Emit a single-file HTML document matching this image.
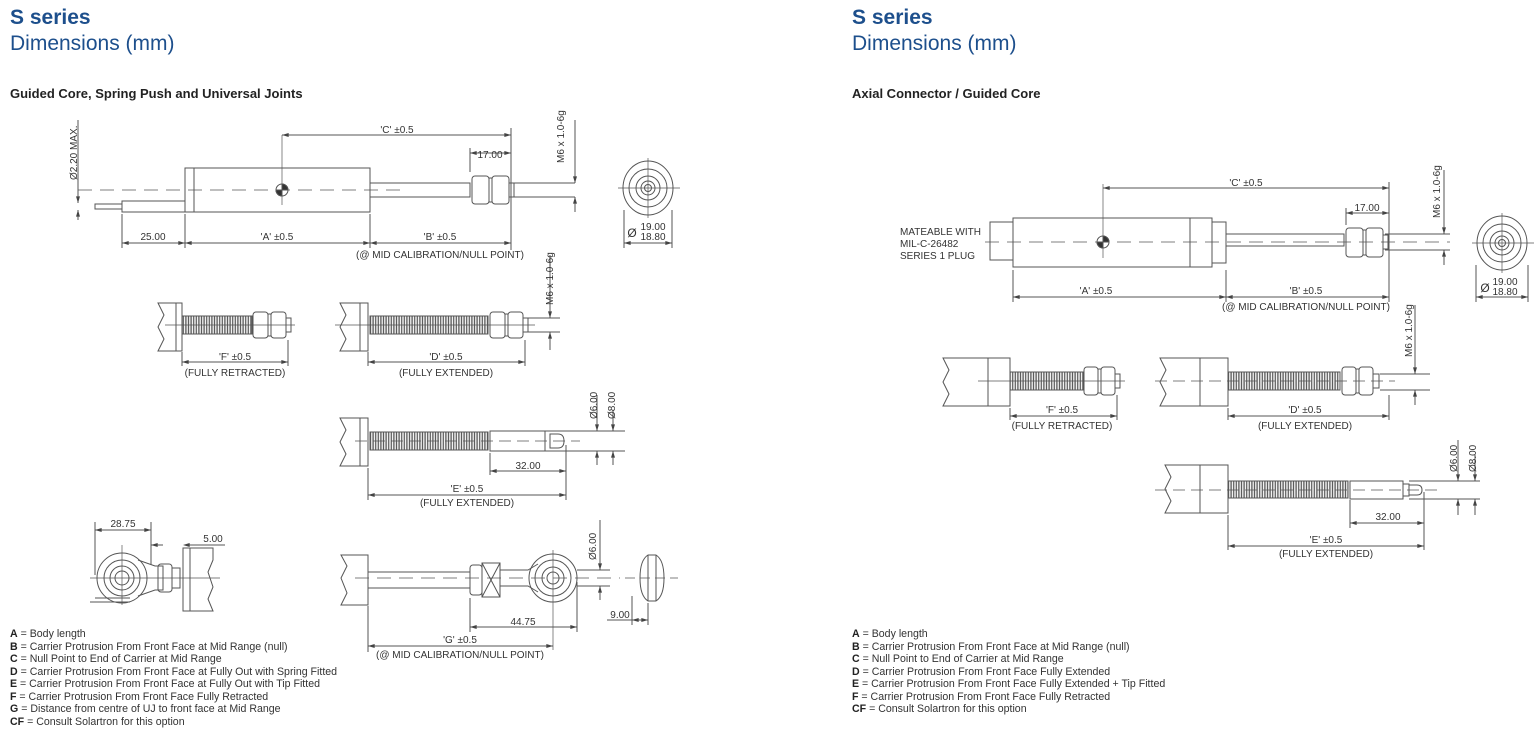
<!DOCTYPE html>
<html><head><meta charset="utf-8"><style>
body{margin:0;background:#fff;width:1538px;height:732px;overflow:hidden;font-family:"Liberation Sans",sans-serif}
svg text{font-family:"Liberation Sans",sans-serif;fill:#333}
</style></head><body>
<svg width="1538" height="732" viewBox="0 0 1538 732" xmlns="http://www.w3.org/2000/svg">
<defs>
<marker id="a" viewBox="0 0 10 6" refX="10" refY="3" markerWidth="8" markerHeight="4" orient="auto-start-reverse"><path d="M0,0L10,3L0,6z" fill="#444"/></marker>
<pattern id="sp" width="2.6" height="10" patternUnits="userSpaceOnUse"><rect width="2.6" height="10" fill="#fff"/><line x1="1.3" y1="0" x2="1.3" y2="10" stroke="#555" stroke-width="1.3"/></pattern>
</defs>
<g font-size="21" fill="#1d4f8c">
<text x="10" y="24" font-weight="bold" style="fill:#1d4f8c">S series</text>
<text x="10" y="50" style="fill:#1d4f8c">Dimensions (mm)</text>
<text x="852" y="24" font-weight="bold" style="fill:#1d4f8c">S series</text>
<text x="852" y="50" style="fill:#1d4f8c">Dimensions (mm)</text>
</g>
<text x="10" y="98" font-size="13" font-weight="bold" style="fill:#222">Guided Core, Spring Push and Universal Joints</text>
<text x="852" y="98" font-size="13" font-weight="bold" style="fill:#222">Axial Connector / Guided Core</text>

<g stroke="#555" stroke-width="1" fill="none">
<!-- LEFT main -->
<line x1="78" y1="190" x2="400" y2="190" stroke-dasharray="14,8" stroke-width=".7"/>
<rect x="95" y="204" width="27" height="5"/><rect x="122" y="201" width="63" height="11"/>
<rect x="185" y="168" width="185" height="44"/><line x1="194" y1="168" x2="194" y2="212"/>
<rect x="370" y="183" width="100" height="14"/><line x1="510" y1="183" x2="575" y2="183"/><line x1="510" y1="197" x2="575" y2="197"/>
<rect x="472" y="176" width="17" height="28" rx="3"/><rect x="489" y="178" width="3" height="24"/><rect x="492" y="176" width="17" height="28" rx="3"/><rect x="509" y="183" width="5" height="14"/>
<circle cx="282" cy="190" r="6"/><line x1="282" y1="135" x2="282" y2="205" stroke-width=".7"/>
<path d="M282,190L282,184A6,6 0 0 1 288,190Z M282,190L282,196A6,6 0 0 1 276,190Z" fill="#333"/>
<line x1="282" y1="135" x2="511" y2="135" marker-start="url(#a)" marker-end="url(#a)"/>
<line x1="511" y1="128" x2="511" y2="250"/><line x1="470" y1="148" x2="470" y2="172"/>
<line x1="470" y1="153" x2="511" y2="153" marker-start="url(#a)" marker-end="url(#a)"/>
<line x1="575" y1="120" x2="575" y2="183" marker-end="url(#a)"/><line x1="575" y1="212" x2="575" y2="197" marker-end="url(#a)"/>
<line x1="122" y1="214" x2="122" y2="248"/><line x1="185" y1="214" x2="185" y2="248"/><line x1="370" y1="214" x2="370" y2="248"/>
<line x1="122" y1="243" x2="185" y2="243" marker-start="url(#a)" marker-end="url(#a)"/>
<line x1="185" y1="243" x2="370" y2="243" marker-start="url(#a)" marker-end="url(#a)"/>
<line x1="370" y1="243" x2="511" y2="243" marker-start="url(#a)" marker-end="url(#a)"/>
<line x1="78" y1="120" x2="78" y2="203" marker-end="url(#a)"/><line x1="78" y1="220" x2="78" y2="210" marker-end="url(#a)"/>
<!-- end view -->
<ellipse cx="648" cy="188" rx="25" ry="27"/><circle cx="648" cy="188" r="19"/><circle cx="648" cy="188" r="12"/><circle cx="648" cy="188" r="7"/><circle cx="648" cy="188" r="3.5"/>
<line x1="618" y1="188" x2="680" y2="188" stroke-width=".7"/><line x1="648" y1="158" x2="648" y2="218" stroke-width=".7"/>
<line x1="624" y1="210" x2="624" y2="248"/><line x1="672" y1="210" x2="672" y2="248"/>
<line x1="624" y1="243" x2="672" y2="243" marker-start="url(#a)" marker-end="url(#a)"/>

<!-- F left -->
<path d="M158,303h24v48h-24l6,-12-6,-12 6,-12z"/><line x1="176" y1="303" x2="176" y2="351"/>
<rect x="182" y="316" width="70" height="18" fill="url(#sp)"/>
<rect x="253" y="312" width="15" height="26" rx="3"/><rect x="268" y="314" width="3" height="22"/><rect x="271" y="312" width="15" height="26" rx="3"/><rect x="286" y="318" width="5" height="14"/>
<line x1="165" y1="325" x2="295" y2="325" stroke-width=".7"/>
<line x1="288" y1="340" x2="288" y2="366"/><line x1="182" y1="352" x2="182" y2="366"/>
<line x1="182" y1="362" x2="288" y2="362" marker-start="url(#a)" marker-end="url(#a)"/>
<!-- D left -->
<path d="M340,303h28v48h-28l6,-12-6,-12 6,-12z"/><line x1="360" y1="303" x2="360" y2="351"/>
<rect x="370" y="316" width="118" height="18" fill="url(#sp)"/>
<rect x="490" y="312" width="15" height="26" rx="3"/><rect x="505" y="314" width="3" height="22"/><rect x="508" y="312" width="15" height="26" rx="3"/><rect x="523" y="318" width="5" height="14"/>
<line x1="335" y1="325" x2="535" y2="325" stroke-width=".7"/>
<line x1="525" y1="318" x2="560" y2="318"/><line x1="525" y1="332" x2="560" y2="332"/>
<line x1="550" y1="255" x2="550" y2="318" marker-end="url(#a)"/><line x1="550" y1="350" x2="550" y2="332" marker-end="url(#a)"/>
<line x1="368" y1="352" x2="368" y2="366"/><line x1="525" y1="340" x2="525" y2="366"/>
<line x1="368" y1="362" x2="525" y2="362" marker-start="url(#a)" marker-end="url(#a)"/>
<!-- E left -->
<path d="M340,418h28v48h-28l6,-12-6,-12 6,-12z"/><line x1="360" y1="418" x2="360" y2="466"/>
<rect x="370" y="432" width="118" height="18" fill="url(#sp)"/>
<rect x="490" y="431" width="55" height="20"/><path d="M550,434h8q6,0 6,7q0,7-6,7h-8z"/>
<line x1="355" y1="441" x2="580" y2="441" stroke-dasharray="12,6" stroke-width=".7"/>
<line x1="545" y1="431" x2="625" y2="431"/><line x1="545" y1="451" x2="625" y2="451"/>
<line x1="597" y1="395" x2="597" y2="431" marker-end="url(#a)"/><line x1="597" y1="465" x2="597" y2="451" marker-end="url(#a)"/>
<line x1="613" y1="410" x2="613" y2="431" marker-end="url(#a)"/><line x1="613" y1="465" x2="613" y2="451" marker-end="url(#a)"/>
<line x1="490" y1="453" x2="490" y2="475"/><line x1="566" y1="445" x2="566" y2="500"/><line x1="368" y1="468" x2="368" y2="500"/>
<line x1="490" y1="471" x2="566" y2="471" marker-start="url(#a)" marker-end="url(#a)"/>
<line x1="368" y1="495" x2="566" y2="495" marker-start="url(#a)" marker-end="url(#a)"/>
<!-- UJ small left -->
<circle cx="122" cy="578" r="25"/><circle cx="122" cy="578" r="18"/><circle cx="122" cy="578" r="12"/><circle cx="122" cy="578" r="7"/>
<path d="M138,560L155,566h8v24h-8L138,596"/><rect x="158" y="564" width="14" height="28" rx="3"/><rect x="172" y="568" width="8" height="20"/>
<path d="M213,548h-30v63h30l-5,-12 5,-12-5,-15 5,-12z"/><line x1="190" y1="548" x2="190" y2="611"/>
<line x1="90" y1="578" x2="220" y2="578" stroke-width=".7"/><line x1="122" y1="545" x2="122" y2="605" stroke-width=".7"/>
<path d="M90,602h40M95,598h35"/>
<line x1="95" y1="522" x2="95" y2="575"/><line x1="151" y1="522" x2="151" y2="565"/>
<line x1="95" y1="530" x2="151" y2="530" marker-start="url(#a)" marker-end="url(#a)"/>
<line x1="163" y1="545" x2="151" y2="545" marker-end="url(#a)"/><line x1="225" y1="545" x2="187" y2="545"/><line x1="195" y1="545" x2="183" y2="545" marker-end="url(#a)" stroke="none"/>
<!-- G -->
<path d="M341,555h27v50h-27l6,-12-6,-15 6,-12z"/>
<rect x="368" y="572" width="102" height="16"/><rect x="470" y="565" width="12" height="30" rx="3"/><rect x="482" y="563" width="18" height="34"/><path d="M482,563L500,597M500,563L482,597"/>
<path d="M500,570h28l10,-6M500,586h28l10,6"/>
<circle cx="553" cy="578" r="24"/><circle cx="553" cy="578" r="18"/><circle cx="553" cy="578" r="11"/><circle cx="553" cy="578" r="6"/>
<line x1="355" y1="578" x2="620" y2="578" stroke-dasharray="14,8" stroke-width=".7"/><line x1="553" y1="550" x2="553" y2="650" stroke-width=".7"/>
<line x1="577" y1="570" x2="610" y2="570"/><line x1="577" y1="586" x2="610" y2="586"/>
<line x1="600" y1="520" x2="600" y2="570" marker-end="url(#a)"/><line x1="600" y1="600" x2="600" y2="586" marker-end="url(#a)"/>
<path d="M648,555h8q8,5 8,23q0,18-8,23h-8q-8,-5-8,-23q0,-18 8,-23z"/><line x1="648" y1="555" x2="648" y2="601"/><line x1="656" y1="555" x2="656" y2="601"/>
<line x1="625" y1="578" x2="678" y2="578" stroke-dasharray="10,5" stroke-width=".7"/>
<line x1="632" y1="596" x2="632" y2="625"/><line x1="648" y1="603" x2="648" y2="625"/>
<line x1="607" y1="620" x2="632" y2="620"/><line x1="632" y1="620" x2="648" y2="620" marker-start="url(#a)" marker-end="url(#a)"/>
<line x1="470" y1="598" x2="470" y2="632"/><line x1="577" y1="582" x2="577" y2="632"/><line x1="368" y1="606" x2="368" y2="652"/>
<line x1="470" y1="627" x2="577" y2="627" marker-start="url(#a)" marker-end="url(#a)"/>
<line x1="368" y1="646" x2="553" y2="646" marker-start="url(#a)" marker-end="url(#a)"/>

<!-- RIGHT main -->
<line x1="985" y1="242" x2="1450" y2="242" stroke-dasharray="14,8" stroke-width=".7"/>
<rect x="990" y="222" width="23" height="38"/><rect x="1013" y="218" width="177" height="49"/><rect x="1190" y="218" width="22" height="49"/><rect x="1212" y="222" width="14" height="41"/>
<rect x="1226" y="234" width="118" height="12"/><line x1="1385" y1="234" x2="1450" y2="234"/><line x1="1385" y1="250" x2="1450" y2="250"/>
<rect x="1346" y="228" width="17" height="29" rx="3"/><rect x="1363" y="230" width="3" height="25"/><rect x="1366" y="228" width="17" height="29" rx="3"/><rect x="1383" y="235" width="5" height="14"/>
<circle cx="1103" cy="242" r="6"/><line x1="1103" y1="184" x2="1103" y2="258" stroke-width=".7"/>
<path d="M1103,242L1103,236A6,6 0 0 1 1109,242Z M1103,242L1103,248A6,6 0 0 1 1097,242Z" fill="#333"/>
<line x1="1103" y1="188" x2="1389" y2="188" marker-start="url(#a)" marker-end="url(#a)"/>
<line x1="1389" y1="182" x2="1389" y2="302"/><line x1="1346" y1="208" x2="1346" y2="225"/>
<line x1="1346" y1="213" x2="1389" y2="213" marker-start="url(#a)" marker-end="url(#a)"/>
<line x1="1444" y1="170" x2="1444" y2="234" marker-end="url(#a)"/><line x1="1444" y1="265" x2="1444" y2="250" marker-end="url(#a)"/>
<line x1="1013" y1="270" x2="1013" y2="302"/><line x1="1226" y1="270" x2="1226" y2="302"/>
<line x1="1013" y1="297" x2="1226" y2="297" marker-start="url(#a)" marker-end="url(#a)"/>
<line x1="1226" y1="297" x2="1389" y2="297" marker-start="url(#a)" marker-end="url(#a)"/>
<ellipse cx="1502" cy="243" rx="25" ry="27"/><circle cx="1502" cy="243" r="19"/><circle cx="1502" cy="243" r="12"/><circle cx="1502" cy="243" r="7"/><circle cx="1502" cy="243" r="3.5"/>
<line x1="1472" y1="243" x2="1534" y2="243" stroke-width=".7"/><line x1="1502" y1="213" x2="1502" y2="273" stroke-width=".7"/>
<line x1="1476" y1="265" x2="1476" y2="302"/><line x1="1528" y1="265" x2="1528" y2="302"/>
<line x1="1476" y1="297" x2="1528" y2="297" marker-start="url(#a)" marker-end="url(#a)"/>
<!-- F right -->
<path d="M943,358h45v48h-45l6,-12-6,-12 6,-12z"/><rect x="988" y="358" width="22" height="48"/>
<rect x="1010" y="372" width="73" height="18" fill="url(#sp)"/>
<rect x="1084" y="367" width="14" height="28" rx="3"/><rect x="1098" y="369" width="3" height="24"/><rect x="1101" y="367" width="14" height="28" rx="3"/><rect x="1115" y="374" width="5" height="14"/>
<line x1="978" y1="381" x2="1125" y2="381" stroke-width=".7"/>
<line x1="1010" y1="408" x2="1010" y2="420"/><line x1="1117" y1="395" x2="1117" y2="420"/>
<line x1="1010" y1="416" x2="1117" y2="416" marker-start="url(#a)" marker-end="url(#a)"/>
<!-- D right -->
<path d="M1160,358h40v48h-40l6,-12-6,-12 6,-12z"/><rect x="1200" y="358" width="28" height="48"/>
<rect x="1228" y="372" width="112" height="18" fill="url(#sp)"/>
<rect x="1342" y="367" width="14" height="28" rx="3"/><rect x="1356" y="369" width="3" height="24"/><rect x="1359" y="367" width="14" height="28" rx="3"/><rect x="1373" y="374" width="6" height="14"/>
<line x1="1155" y1="381" x2="1395" y2="381" stroke-dasharray="12,6" stroke-width=".7"/>
<line x1="1380" y1="374" x2="1430" y2="374"/><line x1="1380" y1="390" x2="1430" y2="390"/>
<line x1="1415" y1="305" x2="1415" y2="374" marker-end="url(#a)"/><line x1="1415" y1="405" x2="1415" y2="390" marker-end="url(#a)"/>
<line x1="1228" y1="408" x2="1228" y2="420"/><line x1="1389" y1="395" x2="1389" y2="420"/>
<line x1="1228" y1="416" x2="1389" y2="416" marker-start="url(#a)" marker-end="url(#a)"/>
<!-- E right -->
<path d="M1165,465h35v48h-35l6,-12-6,-12 6,-12z"/><rect x="1200" y="465" width="28" height="48"/>
<rect x="1228" y="481" width="120" height="17" fill="url(#sp)"/>
<rect x="1350" y="481" width="53" height="18"/><rect x="1403" y="484" width="6" height="12"/><path d="M1409,485h8q5,0 5,5q0,5-5,5h-8z"/>
<line x1="1155" y1="490" x2="1440" y2="490" stroke-dasharray="12,6" stroke-width=".7"/>
<line x1="1409" y1="481" x2="1480" y2="481"/><line x1="1409" y1="499" x2="1480" y2="499"/>
<line x1="1458" y1="440" x2="1458" y2="481" marker-end="url(#a)"/><line x1="1458" y1="515" x2="1458" y2="499" marker-end="url(#a)"/>
<line x1="1475" y1="455" x2="1475" y2="481" marker-end="url(#a)"/><line x1="1475" y1="515" x2="1475" y2="499" marker-end="url(#a)"/>
<line x1="1350" y1="500" x2="1350" y2="528"/><line x1="1424" y1="492" x2="1424" y2="550"/><line x1="1228" y1="515" x2="1228" y2="550"/>
<line x1="1350" y1="523" x2="1424" y2="523" marker-start="url(#a)" marker-end="url(#a)"/>
<line x1="1228" y1="546" x2="1424" y2="546" marker-start="url(#a)" marker-end="url(#a)"/>
</g>

<g font-size="10" text-anchor="middle">
<text x="397" y="133">'C' ±0.5</text><text x="490" y="158">17.00</text>
<text x="153" y="240">25.00</text><text x="277" y="240">'A' ±0.5</text><text x="440" y="240">'B' ±0.5</text>
<text x="440" y="258">(@ MID CALIBRATION/NULL POINT)</text>
<text x="653" y="230">19.00</text><text x="653" y="240">18.80</text><text x="632" y="237" font-size="12">Ø</text>
<text x="235" y="360">'F' ±0.5</text><text x="235" y="376">(FULLY RETRACTED)</text>
<text x="446" y="360">'D' ±0.5</text><text x="446" y="376">(FULLY EXTENDED)</text>
<text x="528" y="469">32.00</text><text x="467" y="492">'E' ±0.5</text><text x="467" y="506">(FULLY EXTENDED)</text>
<text x="123" y="527">28.75</text><text x="213" y="542">5.00</text>
<text x="523" y="625">44.75</text><text x="460" y="643">'G' ±0.5</text><text x="460" y="658">(@ MID CALIBRATION/NULL POINT)</text>
<text x="620" y="618">9.00</text>
<text x="1246" y="186">'C' ±0.5</text><text x="1367" y="211">17.00</text>
<text x="1096" y="294">'A' ±0.5</text><text x="1306" y="294">'B' ±0.5</text>
<text x="1306" y="310">(@ MID CALIBRATION/NULL POINT)</text>
<text x="1505" y="285">19.00</text><text x="1505" y="295">18.80</text><text x="1485" y="292" font-size="12">Ø</text>
<text x="1062" y="413">'F' ±0.5</text><text x="1062" y="429">(FULLY RETRACTED)</text>
<text x="1305" y="413">'D' ±0.5</text><text x="1305" y="429">(FULLY EXTENDED)</text>
<text x="1388" y="520">32.00</text><text x="1326" y="543">'E' ±0.5</text><text x="1326" y="557">(FULLY EXTENDED)</text>
</g>
<g font-size="10">
<text transform="translate(77,180) rotate(-90)">Ø2.20 MAX.</text>
<text transform="translate(564,163) rotate(-90)">M6 x 1.0-6g</text>
<text transform="translate(553,305) rotate(-90)">M6 x 1.0-6g</text>
<text transform="translate(597,419) rotate(-90)">Ø6.00</text>
<text transform="translate(615,419) rotate(-90)">Ø8.00</text>
<text transform="translate(596,560) rotate(-90)">Ø6.00</text>
<text transform="translate(1440,218) rotate(-90)">M6 x 1.0-6g</text>
<text transform="translate(1412,357) rotate(-90)">M6 x 1.0-6g</text>
<text transform="translate(1457,472) rotate(-90)">Ø6.00</text>
<text transform="translate(1476,472) rotate(-90)">Ø8.00</text>
<text x="900" y="235">MATEABLE WITH</text><text x="900" y="247">MIL-C-26482</text><text x="900" y="259">SERIES 1 PLUG</text>
</g>
<g font-size="10.6">
<text x="10" y="637"><tspan font-weight="bold" style="fill:#222">A</tspan> = Body length</text>
<text x="10" y="650"><tspan font-weight="bold" style="fill:#222">B</tspan> = Carrier Protrusion From Front Face at Mid Range (null)</text>
<text x="10" y="662"><tspan font-weight="bold" style="fill:#222">C</tspan> = Null Point to End of Carrier at Mid Range</text>
<text x="10" y="675"><tspan font-weight="bold" style="fill:#222">D</tspan> = Carrier Protrusion From Front Face at Fully Out with Spring Fitted</text>
<text x="10" y="687"><tspan font-weight="bold" style="fill:#222">E</tspan> = Carrier Protrusion From Front Face at Fully Out with Tip Fitted</text>
<text x="10" y="700"><tspan font-weight="bold" style="fill:#222">F</tspan> = Carrier Protrusion From Front Face Fully Retracted</text>
<text x="10" y="712"><tspan font-weight="bold" style="fill:#222">G</tspan> = Distance from centre of UJ to front face at Mid Range</text>
<text x="10" y="725"><tspan font-weight="bold" style="fill:#222">CF</tspan> = Consult Solartron for this option</text>
<text x="852" y="637"><tspan font-weight="bold" style="fill:#222">A</tspan> = Body length</text>
<text x="852" y="650"><tspan font-weight="bold" style="fill:#222">B</tspan> = Carrier Protrusion From Front Face at Mid Range (null)</text>
<text x="852" y="662"><tspan font-weight="bold" style="fill:#222">C</tspan> = Null Point to End of Carrier at Mid Range</text>
<text x="852" y="675"><tspan font-weight="bold" style="fill:#222">D</tspan> = Carrier Protrusion From Front Face Fully Extended</text>
<text x="852" y="687"><tspan font-weight="bold" style="fill:#222">E</tspan> = Carrier Protrusion From Front Face Fully Extended + Tip Fitted</text>
<text x="852" y="700"><tspan font-weight="bold" style="fill:#222">F</tspan> = Carrier Protrusion From Front Face Fully Retracted</text>
<text x="852" y="712"><tspan font-weight="bold" style="fill:#222">CF</tspan> = Consult Solartron for this option</text>
</g>
</svg>
</body></html>
